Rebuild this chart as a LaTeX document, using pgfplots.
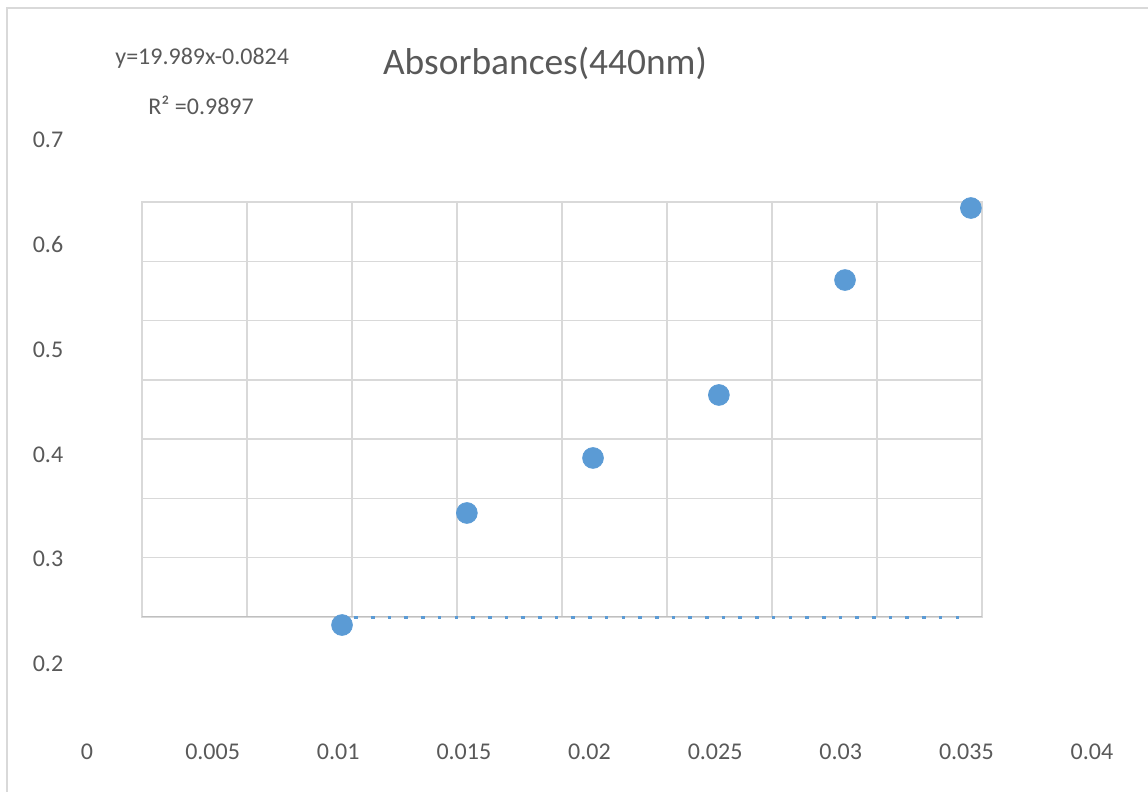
\documentclass[border=0pt]{standalone}
\usepackage{pgfplots}
\pgfplotsset{compat=1.18}
\usepackage{fontspec}
\setmainfont{Carlito}
\definecolor{txt}{HTML}{595959}
\definecolor{gridc}{HTML}{D9D9D9}
\definecolor{axc}{HTML}{BFBFBF}
\definecolor{blu}{HTML}{5B9BD5}
\begin{document}
\begin{tikzpicture}[x=1pt,y=1pt]
\useasboundingbox (0,0) rectangle (574,396);
\draw[gridc, line width=0.75pt] (3.5,0) -- (3.5,392) -- (574,392);
% grid box
\begin{axis}[
  at={(71pt,87.5pt)}, anchor=origin,
  scale only axis, width=420pt, height=207.5pt,
  xmin=0, xmax=8, ymin=0, ymax=7,
  xtick={0,...,8}, ytick={0,...,7},
  xticklabels={}, yticklabels={},
  major tick length=0pt,
  grid=major,
  major grid style={gridc, line width=0.75pt},
  axis line style={gridc, line width=0.75pt},
]
\addplot[draw=axc, line width=1pt] coordinates {(0,0) (8,0)};
\end{axis}
% data and labels
\begin{axis}[
  at={(43.5pt,64pt)}, anchor=origin,
  scale only axis, width=502.5pt, height=262pt,
  xmin=0, xmax=0.04, ymin=0.2, ymax=0.7,
  xtick={0,0.005,0.01,0.015,0.02,0.025,0.03,0.035,0.04},
  xticklabels={0,0.005,0.01,0.015,0.02,0.025,0.03,0.035,0.04},
  ytick={0.2,0.3,0.4,0.5,0.6,0.7},
  yticklabels={0.2,0.3,0.4,0.5,0.6,0.7},
  axis line style={draw=none},
  major tick length=0pt,
  tick style={draw=none},
  xticklabel style={anchor=center, yshift=-44pt, font=\fontsize{12}{14}\selectfont, text=txt},
  yticklabel style={anchor=center, xshift=-19.5pt, font=\fontsize{12}{14}\selectfont, text=txt},
  clip=false,
]
\addplot[blu, line width=1.5pt, dash pattern=on 1.8pt off 6.55pt, dash phase=0.3pt] coordinates {(0.01,0.2448) (0.035,0.2448)};
\addplot[only marks, mark=*, mark size=5.2pt, mark options={fill=blu, draw=blu}] coordinates {
(0.01015,0.2372) (0.01512,0.3441) (0.02014,0.3966) (0.02515,0.4567) (0.03017,0.5664) (0.03518,0.6351)};
\end{axis}
\node[anchor=base west, text=txt, font=\fontsize{12}{14}\selectfont, inner sep=0] at (57.5,363.5) {y=19.989x-0.0824};
\node[anchor=base west, text=txt, font=\fontsize{12}{14}\selectfont, inner sep=0] at (74,338.75) {R² =0.9897};
\node[anchor=base, text=txt, font=\fontsize{18.7}{22}\selectfont, inner sep=0] at (272.5,358.5) {Absorbances(440nm)};
\end{tikzpicture}
\end{document}
